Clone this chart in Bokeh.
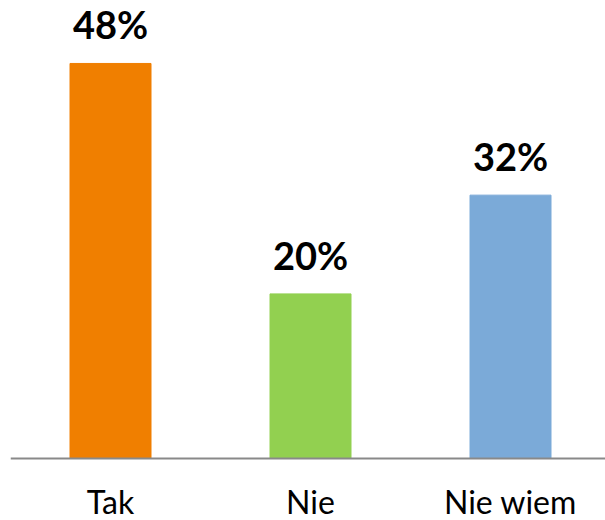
from bokeh.plotting import figure
from bokeh.models import Range1d, FixedTicker, ColumnDataSource
from bokeh.core.properties import value
from bokeh.embed import file_html
from bokeh.resources import INLINE

categories = ["Tak", "Nie", "Nie wiem"]
values = [48, 20, 32]
labels = ["48%", "20%", "32%"]
colors = ["#F07F00", "#92D050", "#7BAAD8"]
positions = [0.5, 1.5, 2.5]

src = ColumnDataSource(dict(x=positions, top=values, lab=labels, color=colors))

p = figure(width=605, height=520, output_backend="svg", toolbar_location=None,
           x_range=Range1d(0, 2.975), y_range=Range1d(-62 / 8.23, 458 / 8.23),
           min_border_left=10, min_border_right=0, min_border_top=0, min_border_bottom=0)
p.outline_line_color = None
p.xgrid.visible = False
p.ygrid.visible = False
p.yaxis.visible = False

p.vbar(x="x", top="top", width=0.405, bottom=0, color="color", source=src)
p.text(x="x", y="top", text="lab", source=src, text_align="center", text_baseline="bottom",
       y_offset=-16, text_font=value("Lato"), text_font_style="bold", text_font_size="38px",
       text_color="black")

ax = p.xaxis[0]
ax.fixed_location = 0
ax.ticker = FixedTicker(ticks=positions)
ax.major_label_overrides = {pos: c for pos, c in zip(positions, categories)}
ax.major_tick_line_color = None
ax.minor_tick_line_color = None
ax.axis_line_color = "#898989"
ax.axis_line_width = 2
ax.major_label_text_font = "Lato"
ax.major_label_text_font_size = "32px"
ax.major_label_text_color = "black"
ax.major_label_standoff = 17

open("out.html", "w").write(file_html(p, INLINE))
